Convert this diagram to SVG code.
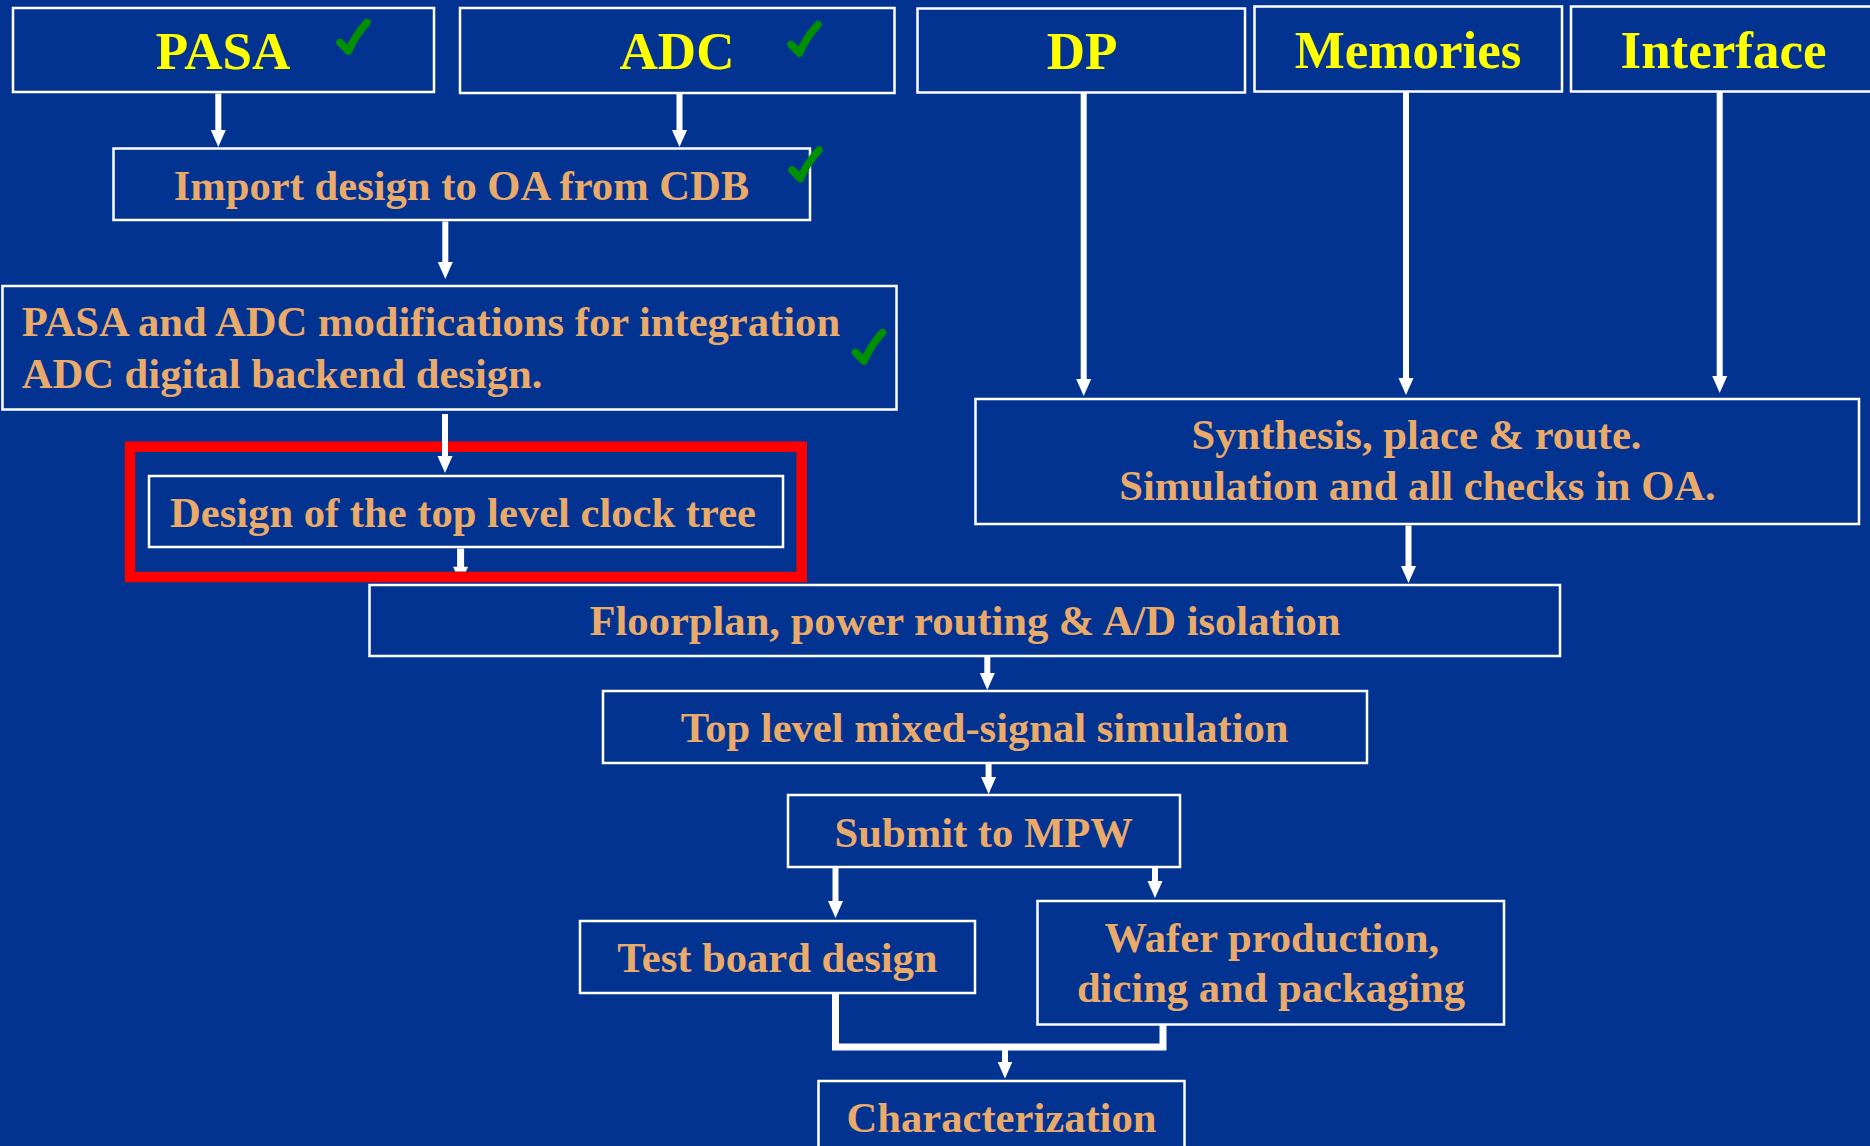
<svg xmlns="http://www.w3.org/2000/svg" width="1870" height="1146" viewBox="0 0 1870 1146">
<style>
.box{fill:none;stroke:#ffffff;stroke-width:2.5}
.title{font-family:"Liberation Serif","Times New Roman",serif;font-weight:bold;font-size:53px;fill:#ffff00;text-anchor:middle}
.txt{font-family:"Liberation Serif","Times New Roman",serif;font-weight:bold;font-size:42.6px;fill:#e9aa6a;text-anchor:middle}
.left{text-anchor:start}
.arr{stroke:#ffffff;stroke-width:6;fill:none;marker-end:url(#ah)}
.chk{fill:none;stroke:#009000;stroke-width:7.5;stroke-linecap:round;stroke-linejoin:round}
</style>
<defs>
<marker id="ah" markerUnits="userSpaceOnUse" markerWidth="17" markerHeight="16" viewBox="0 -8 17 16" refX="1" refY="0" orient="auto">
<path d="M0,-7.5 L17,0 L0,7.5 Z" fill="#ffffff"/>
</marker>
<path id="chkmark" class="chk" d="M5,25 L13.5,33.5 Q20,18 32,5"/>
</defs>
<rect x="0" y="0" width="1870" height="1146" fill="#033391"/>

<g id="pasa">
<rect class="box" x="13" y="8" width="421" height="84"/>
<text class="title" x="223" y="69">PASA</text>
<use href="#chkmark" transform="translate(335,17.5)"/>
</g>
<g id="adc">
<rect class="box" x="460" y="8" width="434.5" height="85"/>
<text class="title" x="677" y="69">ADC</text>
<use href="#chkmark" transform="translate(786,19.5)"/>
</g>
<g id="dp">
<rect class="box" x="917.5" y="8.5" width="327.5" height="84"/>
<text class="title" x="1082" y="69">DP</text>
</g>
<g id="memories">
<rect class="box" x="1254.5" y="6.5" width="307.5" height="85"/>
<text class="title" x="1408" y="68">Memories</text>
</g>
<g id="interface">
<rect class="box" x="1571" y="6.5" width="305" height="85"/>
<text class="title" x="1723.5" y="68">Interface</text>
</g>
<g id="import">
<rect class="box" x="113.5" y="148.5" width="696.5" height="71.5"/>
<text class="txt" x="461.5" y="200">Import design to OA from CDB</text>
<use href="#chkmark" transform="translate(787,145)"/>
</g>
<g id="modifications">
<rect class="box" x="2.5" y="286" width="894" height="123.5"/>
<text class="txt left" x="21.7" y="336">PASA and ADC modifications for integration</text>
<text class="txt left" x="21.7" y="387.5">ADC digital backend design.</text>
<use href="#chkmark" transform="translate(850.5,327.5)"/>
</g>
<g id="clocktree">
<rect x="130" y="446.7" width="671.7" height="130.3" fill="none" stroke="#ff0000" stroke-width="10.5"/>
<rect class="box" x="149" y="476" width="634" height="71"/>
<text class="txt" x="463" y="526.7">Design of the top level clock tree</text>
</g>
<g id="synthesis">
<rect class="box" x="975.5" y="399" width="883.5" height="125"/>
<text class="txt" x="1416.5" y="449.4">Synthesis, place &amp; route.</text>
<text class="txt" x="1417.5" y="500">Simulation and all checks in OA.</text>
</g>
<g id="floorplan">
<rect class="box" x="369.5" y="585" width="1190.5" height="71"/>
<text class="txt" x="965" y="635">Floorplan, power routing &amp; A/D isolation</text>
</g>
<g id="toplevel">
<rect class="box" x="603" y="691" width="764" height="72"/>
<text class="txt" x="984.6" y="741.7">Top level mixed-signal simulation</text>
</g>
<g id="submit">
<rect class="box" x="788" y="795" width="392" height="72"/>
<text class="txt" x="983.7" y="846.7">Submit to MPW</text>
</g>
<g id="testboard">
<rect class="box" x="580" y="921" width="395" height="72"/>
<text class="txt" x="777.4" y="971.7">Test board design</text>
</g>
<g id="wafer">
<rect class="box" x="1037.5" y="901" width="466.5" height="123.5"/>
<text class="txt" x="1271.8" y="951.7">Wafer production,</text>
<text class="txt" x="1271" y="1001.7">dicing and packaging</text>
</g>
<g id="characterization">
<rect class="box" x="818.5" y="1081" width="366" height="100"/>
<text class="txt" x="1001.5" y="1131.7">Characterization</text>
</g>

<g id="connectors">
<line class="arr" x1="218.3" y1="93.5" x2="218.3" y2="131"/>
<line class="arr" x1="679.5" y1="94" x2="679.5" y2="131"/>
<line class="arr" x1="445.3" y1="221.5" x2="445.3" y2="263"/>
<line class="arr" x1="445" y1="414" x2="445" y2="457"/>
<line x1="460.6" y1="548.5" x2="460.6" y2="568" stroke="#ffffff" stroke-width="7"/>
<polygon points="453.1,566.7 468.1,566.7 466,571.5 455.2,571.5" fill="#ffffff"/>
<line class="arr" x1="1083.7" y1="93" x2="1083.7" y2="380"/>
<line class="arr" x1="1406" y1="92" x2="1406" y2="379"/>
<line class="arr" x1="1719.7" y1="92" x2="1719.7" y2="377"/>
<line class="arr" x1="1408.5" y1="525.5" x2="1408.5" y2="567"/>
<line class="arr" x1="987.3" y1="657" x2="987.3" y2="674"/>
<line class="arr" x1="988.6" y1="764" x2="988.6" y2="778"/>
<line class="arr" x1="835.5" y1="868" x2="835.5" y2="902"/>
<line class="arr" x1="1155" y1="868" x2="1155" y2="882"/>
<polyline points="835.5,993 835.5,1047 1163,1047 1163,1024.5" fill="none" stroke="#ffffff" stroke-width="7"/>
<line class="arr" x1="1005" y1="1050" x2="1005" y2="1062.5"/>
</g>
</svg>
